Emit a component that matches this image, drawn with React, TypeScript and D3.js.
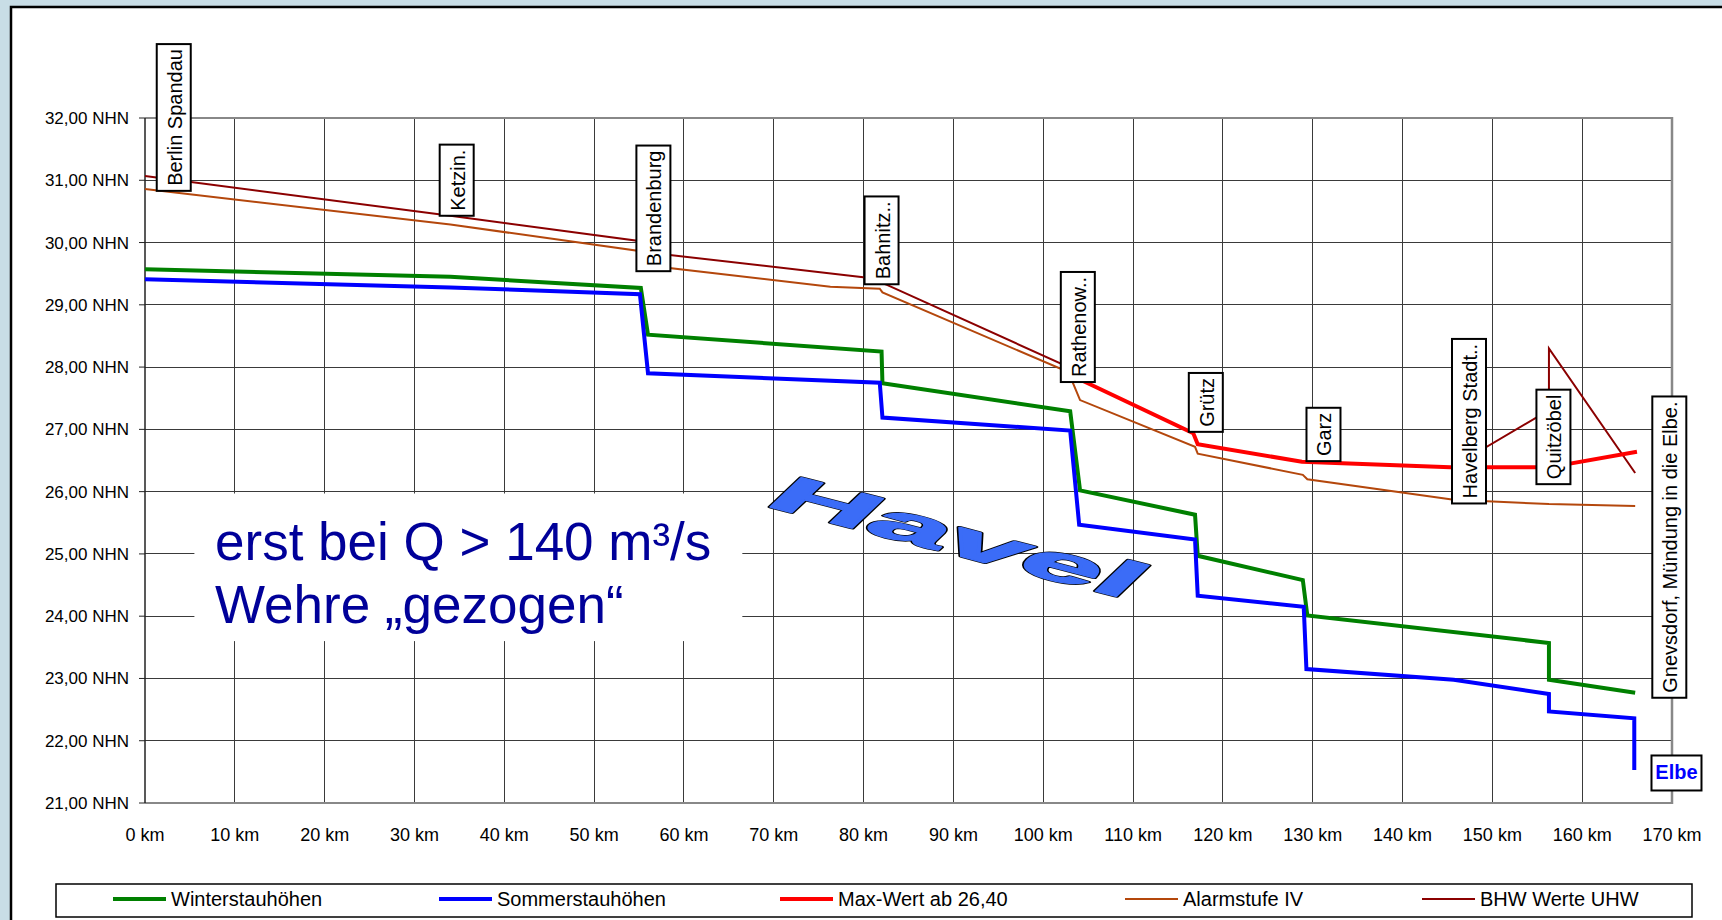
import * as d3 from "d3";

const FONT = "'Liberation Sans', Arial, sans-serif";

// axes
const kmTicks = d3.range(0, 171, 10);
const nhnTicks = d3.range(21, 33, 1);

// Winterstauhöhen
const winterKm = [0, 34, 55.2, 56.0, 82.0, 82.1, 103.0, 104.1, 116.9, 117.2, 128.9, 129.4, 156.3, 156.3, 165.9];
const winterNhn = [29.57, 29.45, 29.27, 28.52, 28.25, 27.74, 27.29, 26.02, 25.63, 24.97, 24.58, 24.01, 23.57, 22.98, 22.77];

// Sommerstauhöhen
const sommerKm = [0, 34, 55.1, 56.0, 81.8, 82.1, 103.0, 104.0, 116.9, 117.2, 129.0, 129.3, 145.7, 156.3, 156.3, 165.8, 165.8];
const sommerNhn = [29.41, 29.28, 29.17, 27.9, 27.75, 27.19, 26.98, 25.47, 25.23, 24.33, 24.15, 23.15, 22.98, 22.75, 22.47, 22.36, 21.53];

// Max-Wert ab 26,40
const maxKm = [103.5, 116.7, 117.2, 128.8, 145.3, 156.3, 166.1];
const maxNhn = [27.84, 26.94, 26.76, 26.48, 26.39, 26.39, 26.64];

// Alarmstufe IV
const alarmKm = [0, 34, 55.2, 56.0, 76.3, 81.8, 82.1, 102.8, 104.1, 116.9, 117.2, 128.9, 129.4, 145.7, 156.3, 165.9];
const alarmNhn = [30.86, 30.29, 29.86, 29.63, 29.29, 29.26, 29.2, 27.92, 27.47, 26.72, 26.61, 26.27, 26.2, 25.87, 25.8, 25.77];

// BHW Werte UHW
const bhwKm = [0, 34, 55.2, 56.0, 80.2, 82.6, 101.9, 103.5, 116.7, 117.2, 128.8, 145.5, 156.3, 156.3, 165.9];
const bhwNhn = [31.07, 30.43, 30.02, 29.84, 29.44, 29.32, 28.06, 27.84, 26.94, 26.76, 26.48, 26.39, 27.31, 28.3, 26.3];

// Orte (Datenbeschriftungen)
const stationNames = ["Berlin Spandau", "Ketzin.", "Brandenburg", "Bahnitz..", "Rathenow..", "Grütz", "Garz", "Havelberg Stadt..", "Quitzöbel", "Gnevsdorf, Mündung in die Elbe."];
const stationKm = [3.2, 34.7, 56.6, 82.0, 103.85, 118.1, 131.2, 147.4, 156.8, 169.7];
const stationNhn = [30.83, 30.43, 29.54, 29.33, 27.76, 26.96, 26.49, 25.81, 26.12, 22.69];

const seriesNames = ["Winterstauhöhen", "Sommerstauhöhen", "Max-Wert ab 26,40", "Alarmstufe IV", "BHW Werte UHW"];
const seriesColors = ["#008000", "#0000ff", "#ff0000", "#b4470c", "#8b0000"];
const seriesWidths = [4, 4, 4, 2, 2];

const W = 1722;
const H = 920;
const margin = { left: 145, right: 50, top: 118, bottom: 117 };

const ctx = typeof document !== "undefined" ? document.createElement("canvas").getContext("2d") : null;
function textWidth(t: string, font: string) {
  if (!ctx) return t.length * 10;
  ctx.font = font;
  return ctx.measureText(t).width;
}

export default function App() {
  const x = d3.scaleLinear().domain([0, 170]).range([margin.left, W - margin.right]);
  const y = d3.scaleLinear().domain([21, 32]).range([H - margin.bottom, margin.top]);

  const line = d3.line<[number, number]>().x(d => x(d[0])).y(d => y(d[1]));
  const zip = (a: number[], b: number[]) => a.map((v, i) => [v, b[i]] as [number, number]);

  // draw order: thin lines first, then the thick ones
  const series = [
    zip(alarmKm, alarmNhn),
    zip(bhwKm, bhwNhn),
    zip(maxKm, maxNhn),
    zip(winterKm, winterNhn),
    zip(sommerKm, sommerNhn),
  ];
  const seriesIdx = [3, 4, 2, 0, 1];

  const fmt = (v: number) => d3.format(".2f")(v).replace(".", ",") + " NHN";

  const legendX = [113, 439, 780, 1125, 1422];
  const havelTf = "translate(762,505) rotate(14.5) skewX(-32) scale(2.65,1)";

  return (
    <div style={{ position: "absolute", left: 0, top: 0 }}>
      <svg width={W} height={H} style={{ display: "block", fontFamily: FONT }}>
        <rect x={0} y={0} width={W} height={H} fill="#c8dde6" />
        <rect x={11} y={7} width={W + 20} height={H + 20} fill="#fff" stroke="#000" strokeWidth={2.5} />

        {/* Gitter */}
        {kmTicks.slice(1, -1).map(t => (
          <line key={"vx" + t} x1={x(t)} x2={x(t)} y1={y(32)} y2={y(21)} stroke="#3a3a3a" strokeWidth={1} shapeRendering="crispEdges" />
        ))}
        {nhnTicks.slice(1, -1).map(t => (
          <line key={"hy" + t} x1={x(0)} x2={x(170)} y1={y(t)} y2={y(t)} stroke="#3a3a3a" strokeWidth={1} shapeRendering="crispEdges" />
        ))}
        <line x1={x(0)} x2={x(170)} y1={y(32)} y2={y(32)} stroke="#888" strokeWidth={2} />
        <line x1={x(170)} x2={x(170)} y1={y(32) - 1} y2={y(21) + 1} stroke="#888" strokeWidth={2.5} />
        <line x1={x(0)} x2={x(170)} y1={y(21)} y2={y(21)} stroke="#888" strokeWidth={2} />
        <line x1={x(0)} x2={x(0)} y1={y(32)} y2={y(21)} stroke="#222" strokeWidth={1.5} />

        {/* Y-Achse */}
        {nhnTicks.map(t => (
          <g key={"yt" + t}>
            <line x1={x(0) - 6} x2={x(0)} y1={y(t)} y2={y(t)} stroke="#222" />
            <text x={x(0) - 16} y={y(t) + 6} textAnchor="end" fontSize={17} fill="#000">{fmt(t)}</text>
          </g>
        ))}
        {/* X-Achse */}
        {kmTicks.map(t => (
          <text key={"xt" + t} x={x(t)} y={y(21) + 38} textAnchor="middle" fontSize={18} fill="#000">{t} km</text>
        ))}

        {/* Hinweis */}
        <rect x={x(5.5)} y={y(25.97)} width={x(66.5) - x(5.5)} height={y(23.6) - y(25.97)} fill="#fff" />
        <text x={215} y={560} fontSize={53} fill="#000099">erst bei Q &gt; 140 m³/s</text>
        <text x={215} y={623} fontSize={53} fill="#000099">Wehre „gezogen“</text>

        {/* Havel */}
        <text
          transform={havelTf}
          fontSize={53}
          fontWeight="bold"
          fill="#000"
          stroke="#000"
          strokeWidth={5.5}
          strokeLinejoin="round"
          style={{ vectorEffect: "non-scaling-stroke" } as any}
        >Havel</text>
        <text
          transform={havelTf}
          fontSize={53}
          fontWeight="bold"
          fill="#3b6cf7"
          stroke="#3b6cf7"
          strokeWidth={3}
          strokeLinejoin="round"
          style={{ vectorEffect: "non-scaling-stroke" } as any}
        >Havel</text>

        {/* Linien */}
        {series.map((s, i) => (
          <path key={"s" + i} d={line(s) ?? ""} fill="none" stroke={seriesColors[seriesIdx[i]]} strokeWidth={seriesWidths[seriesIdx[i]]} strokeLinejoin="miter" />
        ))}

        {/* Ortsbeschriftungen */}
        {stationNames.map((name, i) => {
          const tw = textWidth(name, `20px ${FONT}`);
          const h = tw + 10;
          const cx = x(stationKm[i]);
          const bottom = y(stationNhn[i]);
          return (
            <g key={"st" + i}>
              <rect x={cx - 17} y={bottom - h} width={34} height={h} fill="#fff" stroke="#000" strokeWidth={2} />
              <text transform={`translate(${cx + 8},${bottom - 5}) rotate(-90)`} fontSize={20} fill="#000">{name}</text>
            </g>
          );
        })}

        {/* Elbe */}
        <rect x={x(170.5) - 25} y={y(21.49) - 17} width={50} height={35} fill="#fff" stroke="#000" strokeWidth={2} />
        <text x={x(170.5)} y={y(21.49) + 7} textAnchor="middle" fontSize={20} fontWeight="bold" fill="#0000ff">Elbe</text>

        {/* Legende */}
        <rect x={56} y={884} width={1636} height={33} fill="#fff" stroke="#000" strokeWidth={1.5} />
        {seriesNames.map((n, i) => (
          <g key={"lg" + i}>
            <line x1={legendX[i]} x2={legendX[i] + 53} y1={899} y2={899} stroke={seriesColors[i]} strokeWidth={seriesWidths[i]} />
            <text x={legendX[i] + 58} y={906} fontSize={20} fill="#000">{n}</text>
          </g>
        ))}
      </svg>
    </div>
  );
}
